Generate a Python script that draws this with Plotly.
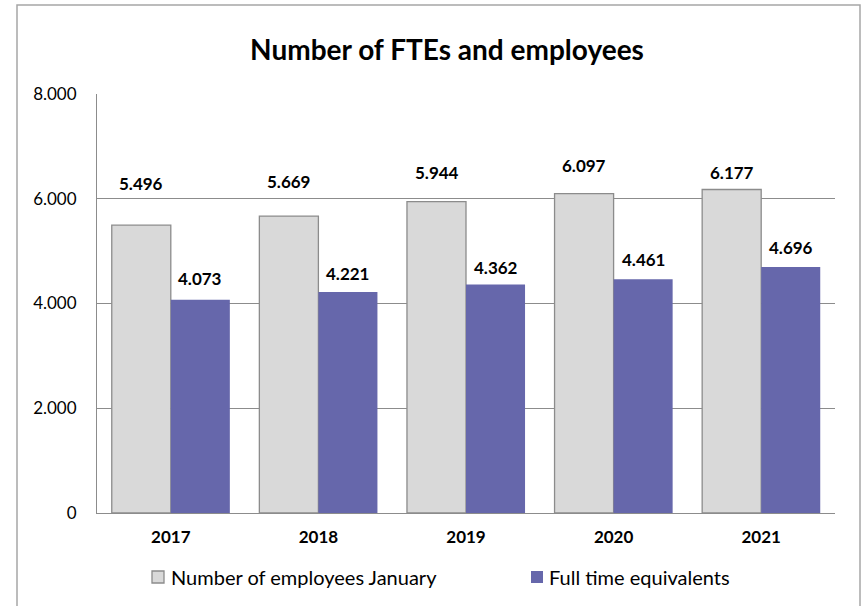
import plotly.graph_objects as go

years = ["2017", "2018", "2019", "2020", "2021"]
employees = [5496, 5669, 5944, 6097, 6177]
ftes = [4073, 4221, 4362, 4461, 4696]
y_ticks = [0, 2000, 4000, 6000, 8000]
series_names = ["Number of employees January", "Full time equivalents"]

# label lift above bar top (px), as in the source chart layout
lift_emp = [42, 35, 29, 28, 17]
lift_fte = [21, 18, 17, 20, 20]

FONT = "Lato, 'Open Sans', sans-serif"
GREY = "#D9D9D9"
GREY_EDGE = "#8C8C8C"
PURPLE = "#6667AB"
GRID = "#8C8C8C"

W, H = 865, 606
PL, PR, PT, PB = 97, 835, 94, 513          # plot area in screen px
L, R, T, B = PL, W - PR, PT, H - PB
pw, ph = PR - PL, PB - PT


def px_x(x):
    return (x - PL) / pw


def px_y(y):
    return (PB - y) / ph


fig = go.Figure()
fig.add_trace(go.Bar(
    name=series_names[0], x=years, y=employees,
    marker=dict(color=GREY, line=dict(color=GREY_EDGE, width=1.3)),
))
fig.add_trace(go.Bar(
    name=series_names[1], x=years, y=ftes,
    marker=dict(color=PURPLE, line=dict(color=PURPLE, width=0)),
))

lab_font = dict(family=FONT, size=17, color="black", weight="bold")
ann = []
for i, yr in enumerate(years):
    ann.append(dict(x=i, y=employees[i], xref="x", yref="y", xshift=-29.5,
                    yshift=lift_emp[i], text=f"{employees[i]:,}".replace(",", "."),
                    showarrow=False, font=lab_font))
    ann.append(dict(x=i, y=ftes[i], xref="x", yref="y", xshift=29.5,
                    yshift=lift_fte[i], text=f"{ftes[i]:,}".replace(",", "."),
                    showarrow=False, font=lab_font))

# manual legend
leg_font = dict(family=FONT, size=20, color="black")
leg_y = 577
ann.append(dict(x=px_x(169), y=px_y(leg_y), xref="paper", yref="paper", xanchor="left",
                yanchor="middle", text=series_names[0], showarrow=False, font=leg_font))
ann.append(dict(x=px_x(547), y=px_y(leg_y), xref="paper", yref="paper", xanchor="left",
                yanchor="middle", text=series_names[1], showarrow=False, font=leg_font))

shapes = [
    dict(type="rect", xref="paper", yref="paper",
         x0=px_x(17), x1=px_x(860), y0=px_y(620), y1=px_y(5),
         line=dict(color="#A6A6A6", width=1.5), fillcolor="rgba(0,0,0,0)", layer="below"),
    dict(type="rect", xref="paper", yref="paper",
         x0=px_x(152), x1=px_x(164), y0=px_y(583), y1=px_y(571),
         line=dict(color=GREY_EDGE, width=1.3), fillcolor=GREY),
    dict(type="rect", xref="paper", yref="paper",
         x0=px_x(531), x1=px_x(543), y0=px_y(583), y1=px_y(571),
         line=dict(width=0), fillcolor=PURPLE),
]

fig.update_layout(
    width=W, height=H,
    margin=dict(l=L, r=R, t=T, b=B, pad=0),
    paper_bgcolor="white", plot_bgcolor="white",
    barmode="group", bargap=0.2, bargroupgap=0,
    separators=",.",
    font=dict(family=FONT, color="black"),
    title=dict(text="<b>Number of FTEs and employees</b>", x=447 / W, xref="container",
               xanchor="center", y=1 - 50 / H, yref="container", yanchor="middle",
               font=dict(family=FONT, size=28, color="black")),
    annotations=ann,
    showlegend=False,
    shapes=shapes,
)
fig.update_xaxes(type="category", range=[-0.5, len(years) - 0.5], autorange=False,
                 showgrid=False, showline=True, linecolor=GRID, linewidth=1,
                 ticks="", tickfont=dict(family=FONT, size=17, color="black", weight="bold"),
                 ticklabelstandoff=9)
fig.update_yaxes(range=[0, 8000], autorange=False, tickvals=y_ticks, tickformat=",d",
                 showgrid=True, gridcolor=GRID, gridwidth=1, showline=True, linecolor=GRID,
                 linewidth=1, zeroline=False, ticks="", ticklabelstandoff=16,
                 tickfont=dict(family=FONT, size=17, color="black"))

fig.write_html(
    "out.html",
    config={"displayModeBar": False},
    post_script="document.body.style.margin='0';document.body.style.overflow='hidden';",
)
